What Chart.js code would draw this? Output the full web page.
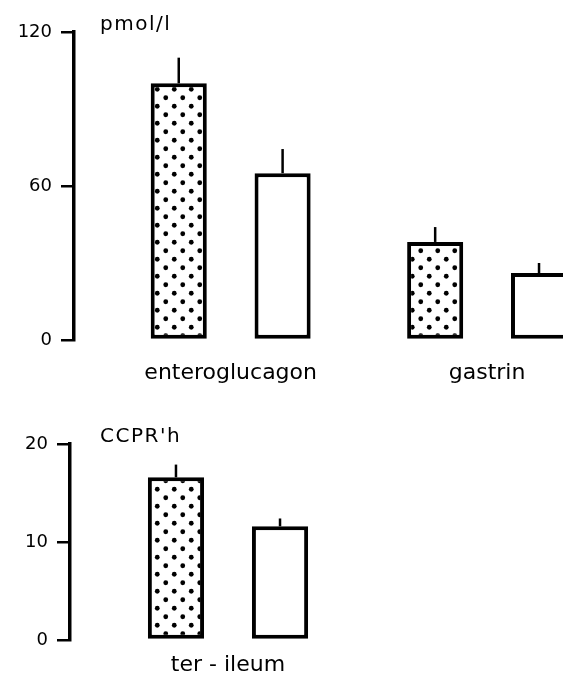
<!DOCTYPE html>
<html>
<head>
<meta charset="utf-8">
<script src="https://cdn.jsdelivr.net/npm/chart.js@4/dist/chart.umd.min.js"></script>
<style>
  html, body { margin: 0; padding: 0; background: #fff; overflow: hidden; }
  #wrap { position: relative; width: 563px; height: 685px; }
  canvas { position: absolute; left: 0; }
  #hormones { top: 0; }
  #ccpr { top: 400px; }
</style>
</head>
<body>
<div id="wrap">
  <canvas id="hormones" width="563" height="400"></canvas>
  <canvas id="ccpr" width="563" height="285"></canvas>
</div>
<script>
// Plasma hormones (pmol/l)
const hormoneCategories = ['enteroglucagon', 'gastrin'];
const hormoneStippled = [100, 38.2];
const hormoneStippledErr = [10, 5.8];
const hormoneOpen = [65, 26.1];
const hormoneOpenErr = [9.4, 3.9];
const hormoneTicks = [0, 60, 120];

// Crypt cell production rate (CCPR/h)
const ccprCategories = ['ter - ileum'];
const ccprStippled = [16.6];
const ccprStippledErr = [1.3];
const ccprOpen = [11.6];
const ccprOpenErr = [0.8];
const ccprTicks = [0, 10, 20];

const FONT = 'DejaVu Sans';
const INK = '#000';

// dotted fill for the first series
function makeStipple() {
  const c = document.createElement('canvas');
  c.width = 17; c.height = 17;
  const g = c.getContext('2d');
  g.fillStyle = '#fff';
  g.fillRect(0, 0, 17, 17);
  g.fillStyle = INK;
  [[4.25, 4.25], [12.75, 12.75]].forEach(([x, y]) => {
    g.beginPath(); g.arc(x, y, 2.4, 0, Math.PI * 2); g.fill();
  });
  return g.createPattern(c, 'repeat');
}
const stipple = makeStipple();

// upward error whiskers taken from dataset.errors
const errorBars = {
  id: 'errorBars',
  afterDatasetsDraw(chart) {
    const ctx = chart.ctx;
    const y = chart.scales.y;
    ctx.save();
    ctx.strokeStyle = INK;
    ctx.lineWidth = 2.5;
    chart.data.datasets.forEach((ds, di) => {
      const meta = chart.getDatasetMeta(di);
      meta.data.forEach((bar, i) => {
        const v = ds.data[i].y;
        const top = y.getPixelForValue(v + ds.errors[i]);
        ctx.beginPath();
        ctx.moveTo(bar.x, bar.y);
        ctx.lineTo(bar.x, top);
        ctx.stroke();
      });
    });
    ctx.restore();
  }
};

// unit caption beside the top of the value axis
const unitLabel = {
  id: 'unitLabel',
  afterDraw(chart, args, opts) {
    const ctx = chart.ctx;
    ctx.save();
    ctx.font = '20px "' + FONT + '"';
    ctx.letterSpacing = '1.5px';
    ctx.fillStyle = INK;
    ctx.textBaseline = 'alphabetic';
    ctx.textAlign = 'left';
    ctx.fillText(opts.text, opts.x, chart.chartArea.top + opts.dy);
    ctx.restore();
  }
};

function points(vals) {
  return vals.map((v, i) => ({ x: i, y: v }));
}

function build(id, cfg) {
  const ticksList = cfg.ticks;
  return new Chart(document.getElementById(id), {
    type: 'bar',
    data: {
      datasets: [
        { data: points(cfg.stippled), errors: cfg.stippledErr, backgroundColor: stipple,
          borderColor: INK, borderWidth: 4, borderSkipped: false },
        { data: points(cfg.open), errors: cfg.openErr, backgroundColor: '#fff',
          borderColor: INK, borderWidth: 4, borderSkipped: false }
      ]
    },
    options: {
      responsive: false,
      animation: false,
      categoryPercentage: 0.81,
      barPercentage: 0.54,
      layout: { padding: { top: cfg.padTop, left: 0, right: 0, bottom: 0 } },
      plugins: {
        legend: { display: false },
        tooltip: { enabled: false },
        unitLabel: { text: cfg.unit, x: 100, dy: -2 }
      },
      scales: {
        x: {
          type: 'linear',
          offset: false,
          min: cfg.xMin,
          max: cfg.xMax,
          grid: { display: false, drawTicks: false },
          border: { display: false },
          afterBuildTicks(scale) {
            const t = [];
            for (let v = Math.ceil(scale.min); v <= scale.max; v++) t.push({ value: Math.abs(v) });
            scale.ticks = t;
          },
          afterFit(scale) { scale.height = cfg.xHeight; },
          ticks: {
            autoSkip: false,
            maxRotation: 0,
            padding: cfg.labelPad,
            color: INK,
            font: { family: FONT, size: 22 },
            callback: (v) => cfg.categories[v] ?? ''
          }
        },
        y: {
          min: ticksList[0],
          max: ticksList[ticksList.length - 1],
          afterBuildTicks(scale) { scale.ticks = ticksList.map(v => ({ value: v })); },
          afterFit(scale) { scale.width = cfg.yWidth; },
          grid: { drawOnChartArea: false, drawTicks: true, tickLength: 13, color: INK, lineWidth: 2.5 },
          border: { display: true, color: INK, width: 3.5 },
          ticks: { color: INK, padding: 9, font: { family: FONT, size: 18 } }
        }
      }
    },
    plugins: [errorBars, unitLabel]
  });
}

build('hormones', {
  categories: hormoneCategories,
  stippled: hormoneStippled, stippledErr: hormoneStippledErr,
  open: hormoneOpen, openErr: hormoneOpenErr,
  ticks: hormoneTicks, unit: 'pmol/l',
  padTop: 32, xHeight: 60, labelPad: 20, yWidth: 74,
  xMin: -0.611, xMax: 1.296
});

build('ccpr', {
  categories: ccprCategories,
  stippled: ccprStippled, stippledErr: ccprStippledErr,
  open: ccprOpen, openErr: ccprOpenErr,
  ticks: ccprTicks, unit: "CCPR'h",
  padTop: 44, xHeight: 45, labelPad: 12, yWidth: 70,
  xMin: -0.615, xMax: 1.304
});
</script>
</body>
</html>
